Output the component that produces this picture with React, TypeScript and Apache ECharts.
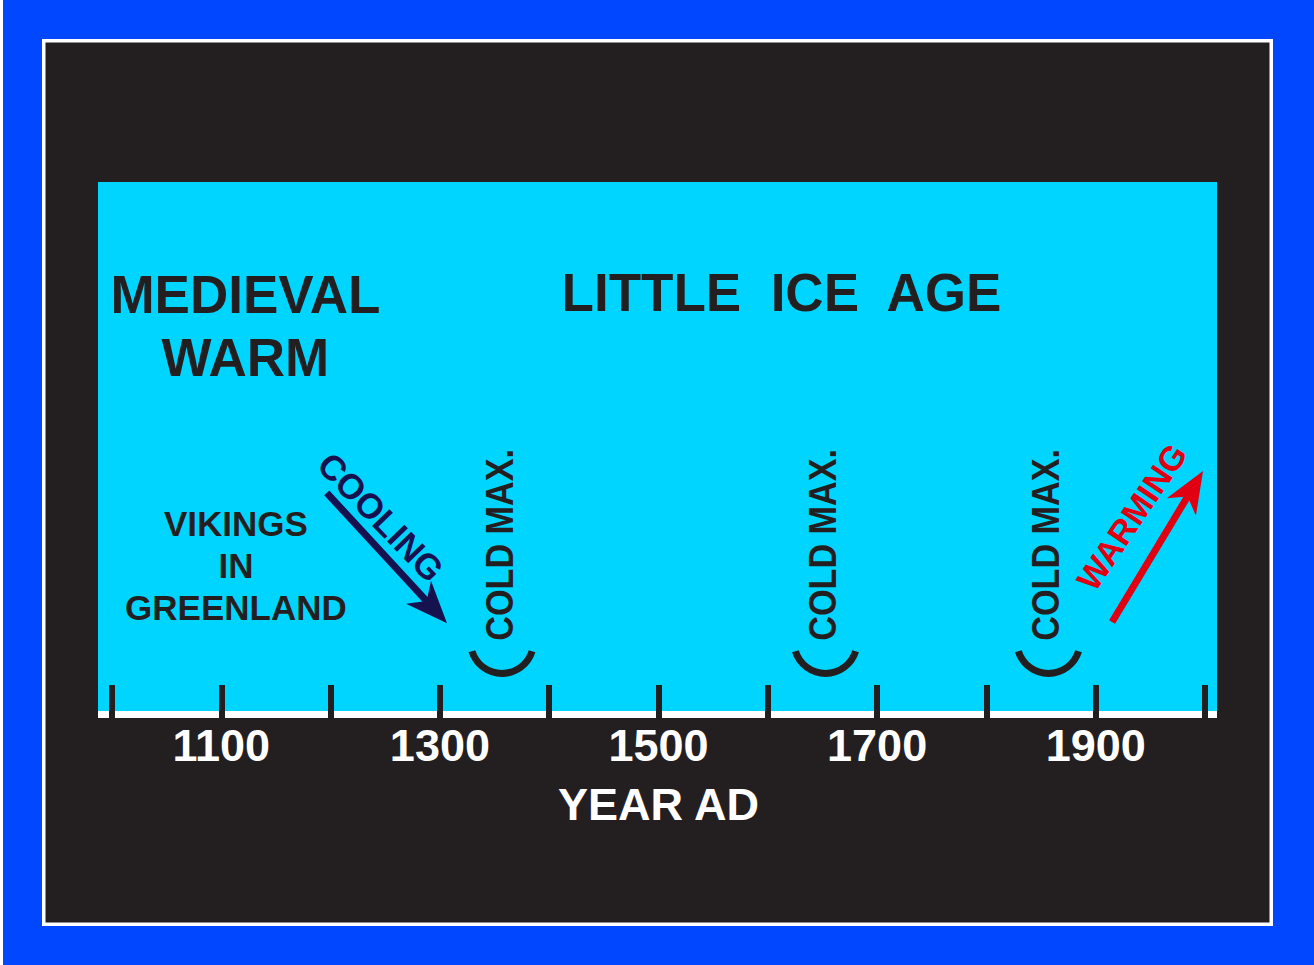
import React, { useEffect, useRef } from "react";
import * as echarts from "echarts";

// ---- data ----
const axisMin = 1000;
const axisMax = 2000;
const tickStep = 100;
const labelYears = [1100, 1300, 1500, 1700, 1900];

const periodYears = [1122, 1612.5];
const periodLevels = [73.1, 79.4];
const periodTexts = ["MEDIEVAL\nWARM", "LITTLE  ICE  AGE"];

const noteYears = [1113.4];
const noteLevels = [28.4];
const noteTexts = ["VIKINGS\nIN\nGREENLAND"];

const trendNames = ["COOLING", "WARMING"];
const trendStartYears = [1196.5, 1915];
const trendStartLevels = [42.0, 17.9];
const trendEndYears = [1306.5, 1998.2];
const trendEndLevels = [17.7, 46.1];
const trendLabelYears = [1246, 1933];
const trendLabelLevels = [37.5, 37.5];

const coldMaxYears = [1356.8, 1652.8, 1856.8];
const coldMaxTextLevel = 32.3;
const coldMaxArcLevel = 14.2;
const coldMaxText = "COLD MAX.";

// ---- styles ----
const FONT = "'Liberation Sans', Arial, Helvetica, sans-serif";
const DARK = "#231f20";
const CYAN = "#00d5ff";
const BLUE = "#0047ff";
const NAVY = "#16124f";
const RED = "#e00012";
const trendColors = [NAVY, RED];
const trendAngles = [-46 * Math.PI / 180, 56 * Math.PI / 180];
const trendFontSizes = [35, 34];

export default function App() {
  const ref = useRef<HTMLDivElement>(null);
  useEffect(() => {
    if (!ref.current) return;
    const chart = echarts.init(ref.current, undefined, { renderer: "svg" });
    const option: any = {
      animation: false,
      backgroundColor: BLUE,
      graphic: [
        { type: "rect", z: -10, shape: { x: 0, y: 0, width: 3, height: 965 }, style: { fill: "#ffffff" } },
        { type: "rect", z: -10, shape: { x: 42, y: 39, width: 1231, height: 887 }, style: { fill: "#ffffff" } },
        { type: "rect", z: -9, shape: { x: 45.5, y: 42.5, width: 1224, height: 880 }, style: { fill: DARK } },
        { type: "rect", z: -8, shape: { x: 98, y: 182, width: 1119, height: 529 }, style: { fill: CYAN } },
        { type: "rect", z: -8, shape: { x: 98, y: 711, width: 1119, height: 7 }, style: { fill: "#ffffff" } },
      ],
      grid: { left: 112, right: 109, top: 182, bottom: 247, show: false },
      xAxis: {
        type: "value",
        min: axisMin,
        max: axisMax,
        interval: tickStep,
        z: 10,
        axisLine: { show: false },
        splitLine: { show: false },
        axisTick: { show: true, inside: true, length: 33, lineStyle: { color: DARK, width: 6 } },
        axisLabel: {
          show: true,
          margin: 5,
          color: "#ffffff",
          fontSize: 45,
          fontWeight: "bold",
          fontFamily: FONT,
          formatter: (v: number) => (labelYears.includes(v) ? String(v) : ""),
        },
        name: "YEAR AD",
        nameLocation: "middle",
        nameGap: 64,
        nameTextStyle: { color: "#ffffff", fontSize: 45, fontWeight: "bold", fontFamily: FONT },
      },
      yAxis: { type: "value", min: 0, max: 100, show: false },
      series: [
        {
          type: "custom",
          name: "periods",
          data: periodYears.map((y, i) => [y, periodLevels[i]]),
          renderItem: (params: any, api: any) => {
            const p = api.coord([api.value(0), api.value(1)]);
            return {
              type: "text",
              x: p[0],
              y: p[1],
              style: {
                text: periodTexts[params.dataIndex],
                fill: DARK,
                fontSize: 53,
                fontWeight: "bold",
                fontFamily: FONT,
                align: "center",
                verticalAlign: "middle",
                lineHeight: 63.5,
              },
            };
          },
        },
        {
          type: "custom",
          name: "notes",
          data: noteYears.map((y, i) => [y, noteLevels[i]]),
          renderItem: (params: any, api: any) => {
            const p = api.coord([api.value(0), api.value(1)]);
            return {
              type: "text",
              x: p[0],
              y: p[1],
              style: {
                text: noteTexts[params.dataIndex],
                fill: DARK,
                fontSize: 35,
                fontWeight: "bold",
                fontFamily: FONT,
                align: "center",
                verticalAlign: "middle",
                lineHeight: 42,
              },
            };
          },
        },
        {
          type: "custom",
          name: "trends",
          data: trendNames.map((_, i) => [
            trendStartYears[i],
            trendStartLevels[i],
            trendEndYears[i],
            trendEndLevels[i],
            trendLabelYears[i],
            trendLabelLevels[i],
          ]),
          renderItem: (params: any, api: any) => {
            const i = params.dataIndex;
            const a = api.coord([api.value(0), api.value(1)]);
            const b = api.coord([api.value(2), api.value(3)]);
            const t = api.coord([api.value(4), api.value(5)]);
            const dx = b[0] - a[0];
            const dy = b[1] - a[1];
            const len = Math.sqrt(dx * dx + dy * dy);
            const ux = dx / len;
            const uy = dy / len;
            const nx = -uy;
            const ny = ux;
            const headLen = 42;
            const headHalf = 17;
            const notch = 30;
            const bx = b[0] - headLen * ux;
            const by = b[1] - headLen * uy;
            const color = trendColors[i];
            return {
              type: "group",
              children: [
                {
                  type: "line",
                  shape: { x1: a[0], y1: a[1], x2: b[0] - notch * ux, y2: b[1] - notch * uy },
                  style: { stroke: color, lineWidth: 7 },
                },
                {
                  type: "polygon",
                  shape: {
                    points: [
                      [b[0], b[1]],
                      [bx + headHalf * nx, by + headHalf * ny],
                      [b[0] - notch * ux, b[1] - notch * uy],
                      [bx - headHalf * nx, by - headHalf * ny],
                    ],
                  },
                  style: { fill: color },
                },
                {
                  type: "text",
                  x: t[0],
                  y: t[1],
                  rotation: trendAngles[i],
                  style: {
                    text: trendNames[i],
                    fill: color,
                    fontSize: trendFontSizes[i],
                    fontWeight: "bold",
                    fontFamily: FONT,
                    align: "center",
                    verticalAlign: "middle",
                  },
                },
              ],
            };
          },
        },
        {
          type: "custom",
          name: "coldmax",
          data: coldMaxYears.map((y) => [y, coldMaxTextLevel, coldMaxArcLevel]),
          renderItem: (params: any, api: any) => {
            const t = api.coord([api.value(0), api.value(1)]);
            const c = api.coord([api.value(0), api.value(2)]);
            return {
              type: "group",
              children: [
                {
                  type: "arc",
                  shape: { cx: c[0], cy: c[1], r: 31.5, startAngle: 0.3, endAngle: Math.PI - 0.3, clockwise: true },
                  style: { stroke: DARK, lineWidth: 7, fill: "none" },
                },
                {
                  type: "text",
                  x: t[0] - 2.5,
                  y: t[1],
                  rotation: Math.PI / 2,
                  scaleX: 0.9,
                  style: {
                    text: coldMaxText,
                    fill: DARK,
                    fontSize: 38,
                    fontWeight: "bold",
                    fontFamily: FONT,
                    align: "center",
                    verticalAlign: "middle",
                  },
                },
              ],
            };
          },
        },
      ],
    };
    chart.setOption(option);
    return () => chart.dispose();
  }, []);
  return (
    <div
      ref={ref}
      style={{ position: "fixed", left: 0, top: 0, width: 1314, height: 965 }}
    />
  );
}
